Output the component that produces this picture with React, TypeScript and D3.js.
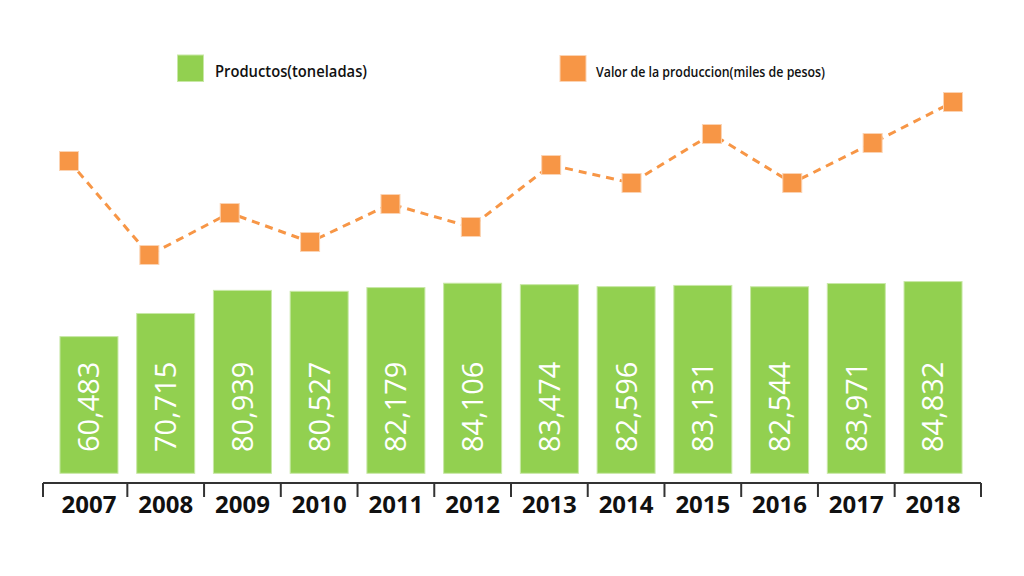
import React from "react";
import * as d3 from "d3";

const years = ["2007", "2008", "2009", "2010", "2011", "2012", "2013", "2014", "2015", "2016", "2017", "2018"];
const productos = [60483, 70715, 80939, 80527, 82179, 84106, 83474, 82596, 83131, 82544, 83971, 84832];
const valor = [139, 45, 87, 58, 96, 73, 135, 117, 166, 117, 157, 198];
const legendLabels = ["Productos(toneladas)", "Valor de la produccion(miles de pesos)"];

const GREEN = "#92D050";
const ORANGE = "#F79646";
const W = 1024;
const H = 576;

export default function App() {
  const x = d3.scaleBand<string>().domain(years).range([50.6, 971.4]).paddingInner(0.244).paddingOuter(0.122);
  const yBar = d3.scaleLinear().domain([0, 90000]).range([473.3, 269.9]);
  const xLine = d3.scalePoint<string>().domain(years).range([69, 953]);
  const yLine = d3.scaleLinear().domain([0, 200]).range([300, 100]);
  const line = d3
    .line<number>()
    .x((_, i) => xLine(years[i]) as number)
    .y((d) => yLine(d));
  const fmt = d3.format(",");
  const step = x.step();
  const axisY = 483;
  const axisLeft = 43;
  const axisRight = 981;
  const tickXs = [axisLeft, ...years.slice(1).map((y) => (x(y) as number) - (step - x.bandwidth()) / 2), axisRight];
  const mk = 19;

  return (
    <svg width={W} height={H} style={{ position: "absolute", left: 0, top: 0, background: "#fff" }}>
      <rect width={W} height={H} fill="#fff" />
      {/* Legend */}
      <rect x={177.5} y={55} width={26} height={26.5} fill={GREEN} stroke="#c8e8a6" strokeWidth={1} />
      <text x={215} y={76.5} fontFamily="Open Sans" fontWeight={600} fontSize={16} fill="#111" textLength={152} lengthAdjust="spacingAndGlyphs">
        {legendLabels[0]}
      </text>
      <rect x={560} y={55.5} width={26} height={26} fill={ORANGE} stroke="#fbd3b3" strokeWidth={1} />
      <text x={596} y={76.5} fontFamily="Open Sans" fontWeight={600} fontSize={14} fill="#111" textLength={229} lengthAdjust="spacingAndGlyphs">
        {legendLabels[1]}
      </text>

      {/* Bars */}
      {productos.map((v, i) => {
        const bx = x(years[i]) as number;
        const by = yBar(v);
        const cx = bx + x.bandwidth() / 2;
        return (
          <g key={years[i]}>
            <rect x={bx} y={by} width={x.bandwidth()} height={yBar(0) - by} fill={GREEN} stroke="#c8e8a6" strokeWidth={1} />
            <text
              transform={`translate(${cx},452) rotate(-90)`}
              dy="0.36em"
              textAnchor="start"
              fontFamily="Open Sans"
              fontWeight={500}
              fontSize={29}
              fill="#fff"
            >
              {fmt(v)}
            </text>
          </g>
        );
      })}

      {/* Line */}
      <path d={line(valor) || ""} fill="none" stroke={ORANGE} strokeWidth={3} strokeDasharray="8,6" />
      {valor.map((v, i) => (
        <rect
          key={years[i]}
          x={(xLine(years[i]) as number) - mk / 2}
          y={yLine(v) - mk / 2}
          width={mk}
          height={mk}
          fill={ORANGE}
          stroke="#fbd3b3"
          strokeWidth={1}
        />
      ))}

      {/* Axis */}
      <line x1={axisLeft} x2={axisRight} y1={axisY} y2={axisY} stroke="#333" strokeWidth={2} />
      {tickXs.map((tx, i) => (
        <line key={i} x1={tx} x2={tx} y1={axisY} y2={axisY + 14} stroke="#333" strokeWidth={2} />
      ))}
      {years.map((y) => (
        <text
          key={y}
          x={(x(y) as number) + x.bandwidth() / 2}
          y={513}
          textAnchor="middle"
          fontFamily="Open Sans"
          fontWeight={700}
          fontSize={24}
          fill="#111"
        >
          {y}
        </text>
      ))}
    </svg>
  );
}
